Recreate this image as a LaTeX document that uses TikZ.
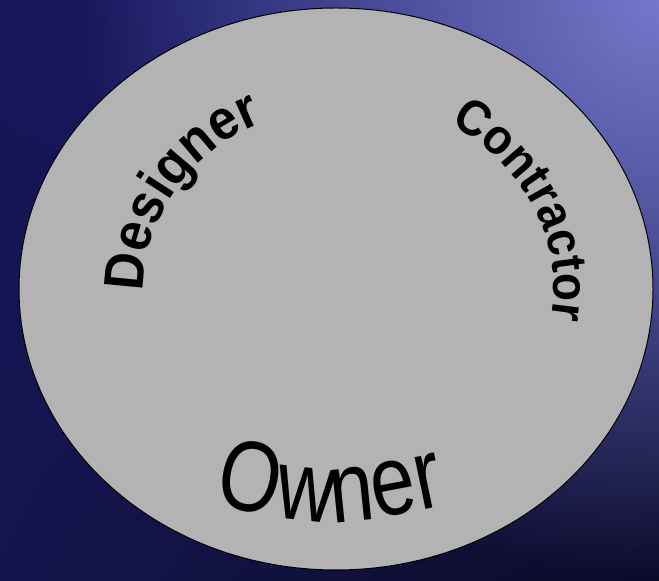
\documentclass[tikz,border=0pt]{standalone}
\usepackage{fontspec}
\setmainfont{Liberation Sans}
\newfontfamily\arcfamily[FakeStretch=0.92]{Liberation Sans}
\newfontfamily\ownerfamily[FakeStretch=0.8]{Liberation Sans}
\usetikzlibrary{shapes.geometric,decorations.text,fadings,shadings}
\definecolor{navyUL}{HTML}{16165A}
\definecolor{navyUR}{HTML}{1E2070}
\definecolor{navyLL}{HTML}{15154E}
\definecolor{navyLR}{HTML}{0B0B28}
\definecolor{glowc}{HTML}{7478C8}
\definecolor{diskgray}{HTML}{B3B3B3}
\tikzfading[name=glowfade, inner color=transparent!0, outer color=transparent!100]
\newcommand\fntD{\arcfamily\fontsize{56}{56}\bfseries\selectfont}
\newcommand\fntC{\arcfamily\fontsize{50}{50}\bfseries\selectfont}
\newcommand\fntO{\ownerfamily\fontsize{100}{100}\selectfont}
\tikzset{
  disk/.style={ellipse, draw=black, line width=1pt, fill=diskgray, inner sep=0pt},
  curvetext/.style={decorate, decoration={text along path, text align=center, text={#1}}}
}
\begin{document}
\begin{tikzpicture}[x=1pt,y=1pt]
\useasboundingbox (0,0) rectangle (659,581);
\begin{scope}
\clip (0,0) rectangle (659,581);
\shade[upper left=navyUL, upper right=navyUR, lower left=navyLL, lower right=navyLR] (0,0) rectangle (659,581);
\fill[glowc, path fading=glowfade] (659,581) circle (580);
\end{scope}
\node[disk, minimum width=634pt, minimum height=562pt] (disc) at (336,292) {};
\coordinate (c) at (disc.center);
\path[curvetext={|\fntD|Designer}] (c) ++(195:192 and 180) arc[start angle=195, end angle=99, x radius=192, y radius=180];
\path[curvetext={|\fntC|Contractor}] (c) ++(73:218 and 194) arc[start angle=73, end angle=-25, x radius=218, y radius=194];
\path[curvetext={|\fntO|Owner}] (206,78) .. controls (330,52) .. (454,78);
\end{tikzpicture}
\end{document}
